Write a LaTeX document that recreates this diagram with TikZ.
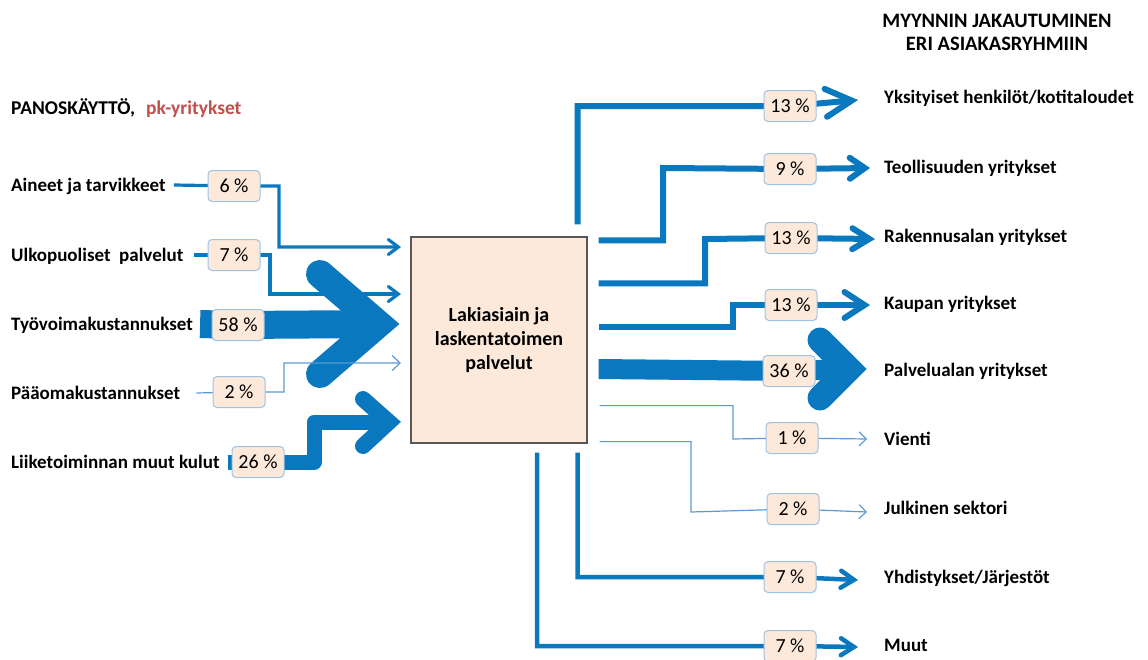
\documentclass[tikz,border=0pt]{standalone}
\usepackage{fontspec}
\setmainfont{Carlito}
\usetikzlibrary{arrows.meta,calc}
\pgfdeclarelayer{back}
\pgfdeclarelayer{bg}
\pgfsetlayers{back,bg,main}
\definecolor{flowblue}{HTML}{0A78BE}
\definecolor{thinblue}{HTML}{5B9BD5}
\definecolor{peach}{HTML}{FDE9D9}
\definecolor{pctedge}{HTML}{9DC3E6}
\definecolor{titlered}{HTML}{C0504D}
\definecolor{boxedge}{HTML}{595959}
\begin{document}
\begin{tikzpicture}[x=1pt,y=-1pt,
  lbl/.style={anchor=base west, inner sep=0pt, font=\bfseries\fontsize{19}{22}\selectfont},
  ttl/.style={anchor=base, inner sep=0pt, font=\bfseries\fontsize{20.5}{22}\selectfont},
  pct/.style={draw=pctedge, fill=peach, rounded corners=4pt, line width=1pt, minimum width=52pt, minimum height=31pt, inner sep=0pt, font=\fontsize{20}{22}\selectfont},
  mainbox/.style={draw=boxedge, fill=peach, line width=1.2pt, minimum width=176pt, minimum height=206pt, inner sep=0pt, align=center, font=\bfseries\fontsize{20}{24}\selectfont},
  medline/.style={draw=flowblue, line width=3.2pt},
  outline/.style={draw=flowblue, line width=6pt},
  lowline/.style={draw=flowblue, line width=4.5pt},
  thinline/.style={draw=thinblue, line width=1.2pt},
  band/.style={draw=flowblue, line cap=butt},
  chevron/.style={draw=flowblue, line cap=round, line join=miter},
  medtip/.style={-{Straight Barb[length=10pt,width=15pt,line cap=round]}},
  thintip/.style={-{Straight Barb[length=8pt,width=15pt]}},
]
\begin{pgfonlayer}{back}
\fill[white] (0,0) rectangle (1148,659);
\end{pgfonlayer}
\useasboundingbox (0,0) rectangle (1148,659);

% headings
\node[lbl,font=\bfseries\fontsize{19.5}{22}\selectfont] (head) at (11,114) {PANOSKÄYTTÖ,\hspace{11pt}\textcolor{titlered}{pk-yritykset}};
\node[ttl] (title1) at (997,27) {MYYNNIN JAKAUTUMINEN};
\node[ttl] (title2) at (997,50) {ERI ASIAKASRYHMIIN};

% main box
\node[mainbox] (m) at (499,340) {Lakiasiain ja\\laskentatoimen\\palvelut};

% left labels
\node[lbl] (la) at (11,191) {Aineet ja tarvikkeet};
\node[lbl] (lb) at (11,261) {Ulkopuoliset\ \ palvelut};
\node[lbl] (lc) at (11,330) {Työvoimakustannukset};
\node[lbl] (ld) at (11,399) {Pääomakustannukset};
\node[lbl] (le) at (11,468) {Liiketoiminnan muut kulut};

% left percentages
\node[pct] (p6) at (234,186) {6 \%};
\node[pct] (p7) at (234,255) {7 \%};
\node[pct] (p58) at (238,325) {58 \%};
\node[pct] (p2) at (239,392) {2 \%};
\node[pct] (p26) at (258,462) {26 \%};

% right labels
\node[lbl] (ra) at (884,103) {Yksityiset henkilöt/kotitaloudet};
\node[lbl] (rb) at (884,173) {Teollisuuden yritykset};
\node[lbl] (rc) at (884,242) {Rakennusalan yritykset};
\node[lbl] (rd) at (884,309) {Kaupan yritykset};
\node[lbl] (re) at (884,376) {Palvelualan yritykset};
\node[lbl] (rf) at (884,445) {Vienti};
\node[lbl] (rg) at (884,514) {Julkinen sektori};
\node[lbl] (rh) at (884,583) {Yhdistykset/Järjestöt};
\node[lbl] (ri) at (884,651) {Muut};

% right percentages
\node[pct] (o13a) at (790,106) {13 \%};
\node[pct] (o9) at (790,169) {9 \%};
\node[pct] (o13b) at (791,238) {13 \%};
\node[pct] (o13c) at (791,305) {13 \%};
\node[pct] (o36) at (789,371) {36 \%};
\node[pct] (o1) at (792,438) {1 \%};
\node[pct] (o2) at (793,509) {2 \%};
\node[pct] (o7a) at (790,577) {7 \%};
\node[pct] (o7b) at (790,646) {7 \%};

% arrow tip coordinates
\coordinate (ia) at (401,247);
\coordinate (ib) at (401,294);
\coordinate (ic) at (400,324);
\coordinate (id) at (401,363);
\coordinate (ie) at (400,422);
\coordinate (t1) at (858,100);
\coordinate (t2) at (870,168);
\coordinate (t3) at (875,239);
\coordinate (t4) at (870,305);
\coordinate (t5) at (867,369);
\coordinate (t6) at (867,439);
\coordinate (t7) at (867,512);
\coordinate (t8) at (858,580);
\coordinate (t9) at (858,647);

\begin{pgfonlayer}{bg}
% inputs
\draw[medline,medtip] ($(la.base east)+(8,-6)$) -- (p6.center) -| ($(ia)+(-122,0)$) -- (ia);
\draw[medline,medtip] ($(lb.base east)+(11,-6)$) -- (p7.center) -| ($(ib)+(-131,0)$) -- (ib);
\draw[band,line width=28pt] ($(lc.base east)+(7,-6)$) -- (p58.center) -- ($(ic)+(-22,0)$);
\draw[chevron,line width=28pt] ($(ic)+(-80,-50)$) -- ($(ic)+(-22,0)$) -- ($(ic)+(-80,50)$);
\draw[thinline,thintip] ($(ld.base east)+(16,-6)$) -- (p2.center) -| ($(id)+(-117,0)$) -- (id);
\draw[band,line width=15pt,line join=round] ($(le.base east)+(8,-6)$) -- (p26.center) -| ($(ie)+(-86,0)$) -- ($(ie)+(-11,0)$);
\draw[chevron,line width=16pt] ($(ie)+(-37,-23)$) -- ($(ie)+(-11,0)$) -- ($(ie)+(-37,24)$);

% outputs
\draw[outline,-{Straight Barb[length=26pt,width=28pt,line cap=round]}] ($(m.north east)+(-10,-12)$) |- (o13a.center) -- (t1);
\draw[outline,-{Straight Barb[length=15pt,width=21pt,line cap=round]}] ($(m.north east)+(11,4)$) -| ($(t2)+(-207,0)$) -- (o9.center) -- (t2);
\draw[outline,-{Straight Barb[length=17pt,width=21pt,line cap=round]}] ($(m.north east)+(11,47)$) -| ($(t3)+(-170,0)$) -- (o13b.center) -- (t3);
\draw[outline,-{Straight Barb[length=20pt,width=26pt,line cap=round]}] ($(m.north east)+(11,91)$) -| ($(t4)+(-137,0)$) -- (o13c.center) -- (t4);
\draw[band,line width=20pt] ($(m.east)+(11,29)$) -- (o36.center) -- ($(t5)+(-18,0)$);
\draw[chevron,line width=25pt] ($(t5)+(-47,-29)$) -- ($(t5)+(-18,0)$) -- ($(t5)+(-47,29)$);
\draw[thinline,-{Straight Barb[length=7pt,width=14pt]}] ($(m.south east)+(12,-38)$) -| ($(t6)+(-134,0)$) -- (o1.center) -- (t6);
\draw[thinline,-{Straight Barb[length=7pt,width=14pt]}] ($(m.south east)+(12,-2)$) -| ($(t7)+(-176,0)$) -- (o2.center) -- (t7);
\draw[lowline,-{Straight Barb[length=13pt,width=17pt,line cap=round]}] ($(m.south east)+(-10,9)$) |- (o7a.center) -- (t8);
\draw[lowline,-{Straight Barb[length=13pt,width=17pt,line cap=round]}] ($(m.south)+(38,9)$) |- (o7b.center) -- (t9);
\end{pgfonlayer}
\end{tikzpicture}
\end{document}
